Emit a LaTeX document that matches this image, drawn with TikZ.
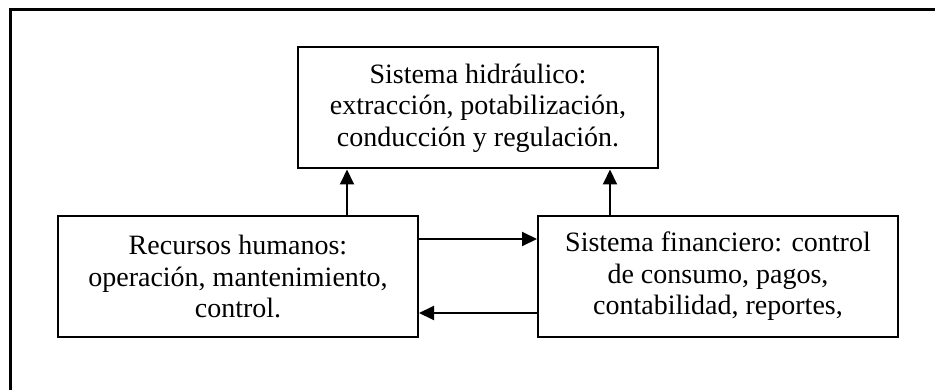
\documentclass[tikz,border=0pt]{standalone}
\usepackage{fontspec}
\setmainfont{Liberation Serif}
\usetikzlibrary{arrows.meta}
\tikzset{
  caja/.style={draw, line width=2pt, minimum width=360pt, minimum height=121pt,
    align=center, inner sep=0pt, font=\fontsize{28}{31.5}\selectfont},
  flecha/.style={line width=2pt, -{Triangle[length=15pt,width=14pt]}}
}
\begin{document}
\begin{tikzpicture}[x=1pt,y=-1pt]
    \useasboundingbox (0,0) rectangle (935,390);
    % marco
    \draw[line width=2.2pt] (10.5,390) -- (10.5,9.5) -- (935,9.5);
    \node[caja] (hid) at (478,108) {Sistema hidráulico:\\extracción, potabilización,\\conducción y regulación.};
    \node[caja] (rh) at (238,276.5) {Recursos humanos:\\operación, mantenimiento,\\control.};
    \node[caja] (sf) at (718,276.5) {Sistema financiero: control\\de consumo, pagos,\\contabilidad, reportes,};
    \coordinate (rhup) at ([xshift=109pt]rh.north);
    \coordinate (sfup) at ([xshift=-108pt]sf.north);
    \coordinate (rhout) at ([yshift=-24pt]rh.north east);
    \coordinate (sfout) at ([yshift=25pt]sf.south west);
    \draw[flecha] (rhup) -- (rhup |- hid.south);
    \draw[flecha] (sfup) -- (sfup |- hid.south);
    \draw[flecha] (rhout) -- (rhout -| sf.west);
    \draw[flecha] (sfout) -- (sfout -| rh.east);
\end{tikzpicture}
\end{document}
